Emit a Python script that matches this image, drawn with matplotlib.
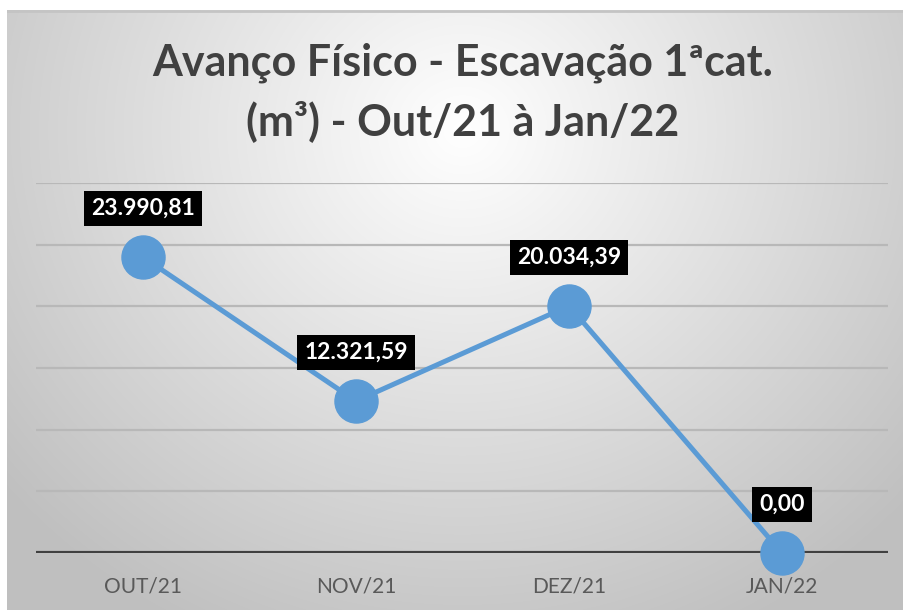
import numpy as np
import matplotlib
matplotlib.use("Agg")
import matplotlib.pyplot as plt

# chart data
months = ["OUT/21", "NOV/21", "DEZ/21", "JAN/22"]
volume = [23990.81, 12321.59, 20034.39, 0.00]
labels = ["23.990,81", "12.321,59", "20.034,39", "0,00"]
yticks = [0, 5000, 10000, 15000, 20000, 25000, 30000]

W, H = 904, 610
fig = plt.figure(figsize=(W / 100, H / 100), dpi=100)
fig.patch.set_facecolor("white")

# radial gradient background of the chart area
bg = fig.add_axes([7 / W, 0, 1 - 7 / W, 1 - 10 / H])
bg.set_axis_off()
yy, xx = np.mgrid[0:600, 0:897]
d = np.sqrt(((xx - 455) / 600.0) ** 2 + ((yy - 120) / 560.0) ** 2)
d = np.clip(d, 0, 1)
shade = 1.0 - 0.25 * d
img = np.dstack([shade, shade, shade])
bg.imshow(img, aspect="auto", extent=[0, 1, 0, 1], origin="upper")
bg.set_xlim(0, 1)
bg.set_ylim(0, 1)
bg.axhline(0.998, color="#c4c4c4", lw=2)

plt.rcParams["font.family"] = ["Lato", "DejaVu Sans"]

fig.text(463 / W, 1 - 63 / H, "Avanço Físico - Escavação 1ªcat.",
         ha="center", va="center", fontsize=31, fontweight="bold", color="#404040")
fig.text(463 / W, 1 - 121 / H, "(m³) - Out/21 à Jan/22",
         ha="center", va="center", fontsize=31, fontweight="bold", color="#404040")

# plot area
left, right = 36.5, 888.5
top, bottom = 183, 553
ax = fig.add_axes([left / W, 1 - bottom / H, (right - left) / W, (bottom - top) / H])
ax.patch.set_alpha(0)
x = np.arange(len(months))
ax.set_xlim(-0.5, len(months) - 0.5)
ax.set_ylim(0, 30000)
for t in yticks[1:]:
    ax.axhline(t, color="#b8b8b8", lw=1.6, zorder=1)
ax.axhline(0, color="#404040", lw=3, zorder=2)
for s in ax.spines.values():
    s.set_visible(False)

ax.plot(x, volume, color="#5b9bd5", lw=3.6, marker="o", ms=31,
        clip_on=False, zorder=3)

for xi, v, lab in zip(x, volume, labels):
    ax.annotate(lab, (xi, v), xytext=(0, 35), textcoords="offset points",
                ha="center", va="center", fontsize=16.5, fontweight="bold",
                color="white", zorder=5, annotation_clip=False,
                bbox=dict(boxstyle="square,pad=0.3", fc="black", ec="none"))

ax.set_yticks([])
ax.set_xticks(x)
ax.set_xticklabels(months, fontsize=15, color="#595959")
ax.tick_params(axis="x", length=0, pad=17)

fig.savefig("out.png", dpi=100)
